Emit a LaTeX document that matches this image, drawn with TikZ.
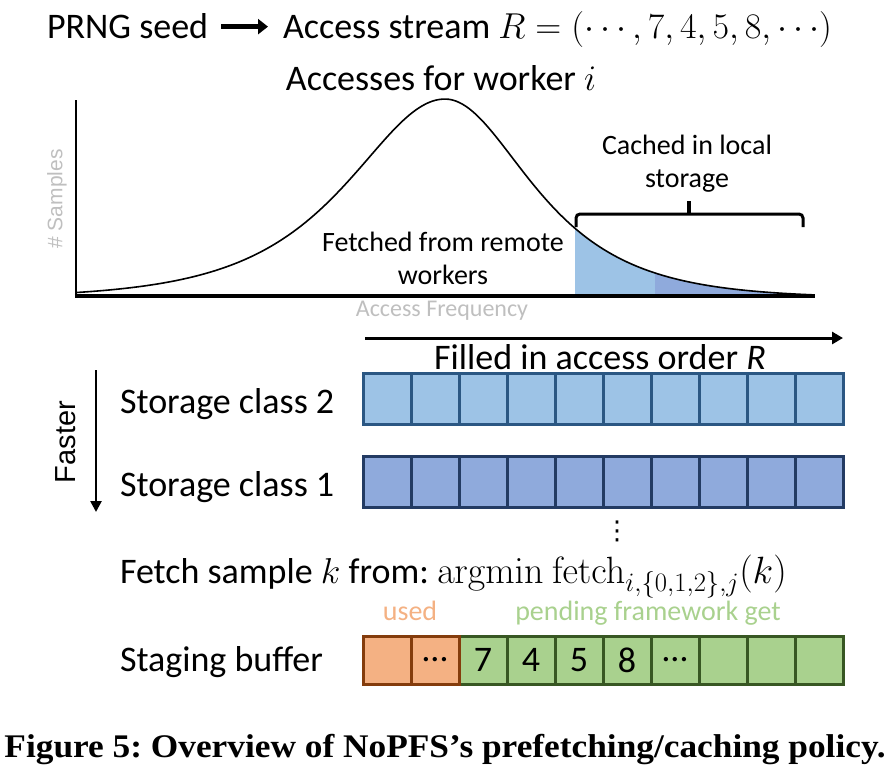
\documentclass[tikz,border=0pt]{standalone}
\usepackage{fix-cm}
\usepackage[no-math]{fontspec}
\setmainfont{Carlito}
\newfontfamily\capfont[FakeStretch=1.07]{Liberation Serif}
\newfontfamily\arialfont{Liberation Sans}
\newfontfamily\dejafont{DejaVu Sans}
\usetikzlibrary{arrows.meta,calc}
\definecolor{fillTwo}{HTML}{9DC3E6}
\definecolor{fillOne}{HTML}{8FAADC}
\definecolor{lineTwo}{HTML}{2B5783}
\definecolor{lineOne}{HTML}{233B63}
\definecolor{usedFill}{HTML}{F4B183}
\definecolor{usedLine}{HTML}{843C0C}
\definecolor{pendFill}{HTML}{A9D18E}
\definecolor{pendLine}{HTML}{385723}
\definecolor{axisGray}{HTML}{BFBFBF}
\frenchspacing
\begin{document}
\begin{tikzpicture}[x=1pt,y=-1pt,
  txt/.style={inner sep=0pt, outer sep=0pt, font=\fontsize{36}{40}\selectfont},
  midtxt/.style={inner sep=0pt, outer sep=0pt, align=center, font=\fontsize{28}{33}\selectfont},
  graytxt/.style={inner sep=0pt, outer sep=0pt, text=axisGray},
  cellbase/.style={inner sep=0pt, outer sep=0pt, minimum width=48pt, line width=3pt, font=\fontsize{36}{40}\selectfont},
  cellTwo/.style={cellbase, draw=lineTwo, fill=fillTwo, minimum height=51pt},
  cellOne/.style={cellbase, draw=lineOne, fill=fillOne, minimum height=51pt},
  cellUsed/.style={cellbase, draw=usedLine, fill=usedFill, minimum height=48pt},
  cellPend/.style={cellbase, draw=pendLine, fill=pendFill, minimum height=48pt},
  declare function={bell(\t)=295-196*max(0,(1/cosh((\t-445)/((\t<445)?86:76))-0.015)/0.985);}
]
\useasboundingbox (0,0) rectangle (890,774);

% ---- title line
\node[txt, anchor=base west] (seed) at (47,38) {PRNG seed};
\node[txt, anchor=base west] (stream) at (283,38) {Access stream $R=(\cdots,7,4,5,8,\cdots)$};
\draw[line width=4.5pt, -{Triangle[length=10pt,width=15pt]}]
  ($(seed.east)+(13,1)$) -- ($(stream.west |- seed.east)+(-15,1)$);

\node[txt, anchor=base] (acc) at (441,90) {Accesses for worker $i$};

% ---- distribution plot
\fill[fillTwo] (575,296) -- plot[domain=575:655,samples=40] (\x,{bell(\x)}) -- (655,296) -- cycle;
\fill[fillOne] (655,296) -- plot[domain=655:812,samples=50] (\x,{bell(\x)}) -- (812,296) -- cycle;
\draw[line width=1.6pt] plot[domain=76:812,samples=220,smooth] (\x,{bell(\x)});
\draw[line width=2.5pt] (76,100) -- (76,296);
\draw[line width=3.5pt] (74.75,296) -- (815,296);

\node[graytxt, rotate=90, font=\arialfont\fontsize{21}{23}\selectfont] (ylab) at (57,199) {\# Samples};
\node[graytxt, font=\fontsize{24}{26}\selectfont] (xlab) at (442,311) {Access Frequency};

\node[midtxt, anchor=base] (fetched) at (443,284) {Fetched from remote\\workers};
\node[midtxt, anchor=base] (cached) at (687,187) {Cached in local\\storage};

\draw[line width=3pt, rounded corners=4pt] (576,227) -- (576,214) -- (803,214) -- (803,227);
\draw[line width=3.5pt] (689,214) -- (689,201);

% ---- storage classes
\coordinate (fillS) at (365,338);
\coordinate (fillE) at (843,338);
\draw[line width=3pt, -{Triangle[length=11pt,width=12pt]}] (fillS) -- (fillE);
\node[txt, anchor=base] (filled) at (600,369) {Filled in access order \textit{R}};

\coordinate (fastS) at (96,370);
\coordinate (fastE) at (96,512);
\draw[line width=2.5pt, -{Triangle[length=11pt,width=11pt]}] (fastS) -- (fastE);
\node[inner sep=0pt, rotate=90, font=\arialfont\fontsize{29}{32}\selectfont] (faster) at (66,442) {Faster};

\node[txt, anchor=base west] (sc2) at (120,413) {Storage class 2};
\node[txt, anchor=base west] (sc1) at (120,496) {Storage class 1};

\foreach \i in {0,...,9} {
  \node[cellTwo] (two\i) at (387+48*\i,399) {};
  \node[cellOne] (one\i) at (387+48*\i,482) {};
}

\node[inner sep=0pt, font=\dejafont\fontsize{26}{28}\selectfont] (vdots) at (617,531) {⋮};

\node[txt, anchor=base west] (fetchline) at (120,583)
  {Fetch sample $k$ from: {\fontsize{38}{42}\selectfont$\mathrm{argmin\ fetch}_{i,\{0,1,2\},j}(k)$}};

% ---- staging buffer
\node[midtxt, anchor=base, text=usedFill] (used) at (410,620) {used};
\node[midtxt, anchor=base, text=pendFill] (pending) at (648,620) {pending framework get};
\node[txt, anchor=base west] (staging) at (120,671) {Staging buffer};

\foreach \i/\lab in {2/7,3/4,4/5,5/8,6/\dots,7/,8/,9/} {
  \node[cellPend] (buf\i) at (387+48*\i,660) {\lab};
}
\foreach \i/\lab in {0/,1/\dots} {
  \node[cellUsed] (buf\i) at (387+48*\i,660) {\lab};
}

% ---- caption
\node[inner sep=0pt, anchor=base, font=\capfont\bfseries\fontsize{33}{36}\selectfont] (caption) at (445,757)
  {Figure 5: Overview of NoPFS’s prefetching/caching policy.};
\end{tikzpicture}
\end{document}
